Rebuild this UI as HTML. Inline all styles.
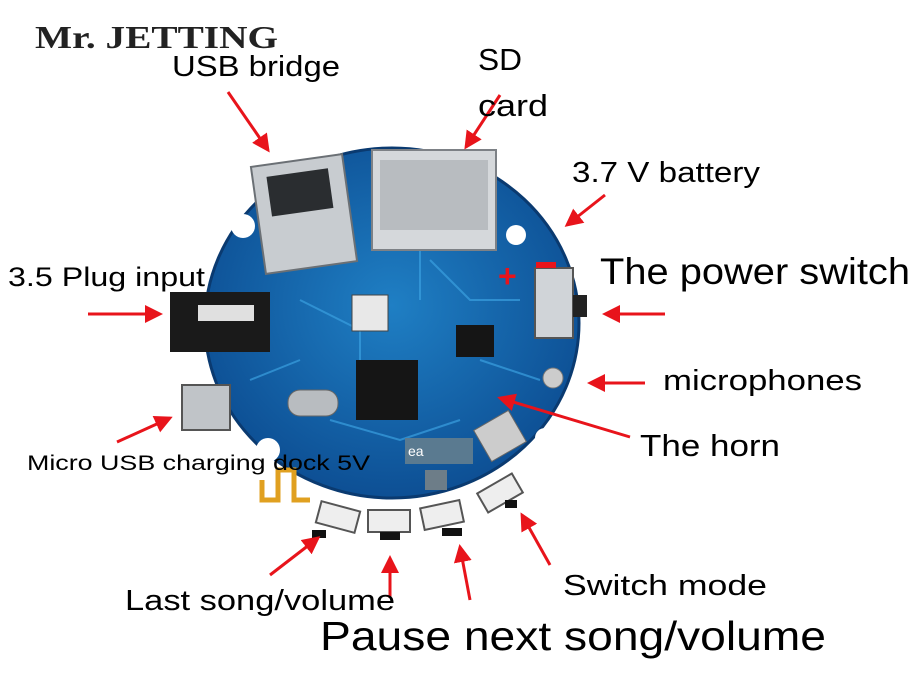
<!DOCTYPE html>
<html><head><meta charset="utf-8"><style>
body{margin:0;background:#fff;}
svg{display:block;}
text{font-family:"Liberation Sans",sans-serif;fill:#000;}
</style></head><body>
<svg width="912" height="686" viewBox="0 0 912 686" xmlns="http://www.w3.org/2000/svg">
<defs>
<marker id="ah" markerWidth="6" markerHeight="6" refX="5" refY="3" orient="auto" markerUnits="strokeWidth">
<path d="M0,0 L6,3 L0,6 z" fill="#e8141b"/></marker>
<radialGradient id="pcb" cx="50%" cy="45%" r="55%">
<stop offset="0" stop-color="#1f7fc4"/><stop offset="1" stop-color="#0d4f94"/></radialGradient>
</defs>
<ellipse cx="392" cy="323" rx="187" ry="175" fill="url(#pcb)"/>
<ellipse cx="392" cy="323" rx="187" ry="175" fill="none" stroke="#0a3a70" stroke-width="3"/>
<g stroke="#3aa0e0" stroke-width="2" fill="none" opacity="0.7">
<path d="M300 300 L360 330 L360 380"/><path d="M430 260 L470 300 L520 300"/>
<path d="M330 420 L400 440 L460 420"/><path d="M250 380 L300 360"/>
<path d="M480 360 L540 380"/><path d="M420 230 L420 300"/>
</g>
<circle cx="243" cy="226" r="12" fill="#fff"/>
<circle cx="516" cy="235" r="10" fill="#fff"/>
<circle cx="268" cy="450" r="12" fill="#fff"/>
<circle cx="545" cy="438" r="10" fill="#fff"/>
<rect x="258" y="160" width="92" height="108" fill="#c8ccd0" stroke="#6b7075" stroke-width="2" transform="rotate(-8 304 214)"/>
<rect x="272" y="172" width="62" height="40" fill="#2a2d30" transform="rotate(-8 304 214)"/>
<rect x="372" y="150" width="124" height="100" fill="#d5d8db" stroke="#7d8186" stroke-width="2"/>
<rect x="380" y="160" width="108" height="70" fill="#b8bcc0"/>
<rect x="170" y="292" width="100" height="60" fill="#1a1a1a"/>
<rect x="198" y="305" width="56" height="16" fill="#e0e0e0"/>
<rect x="182" y="385" width="48" height="45" fill="#c0c4c8" stroke="#555" stroke-width="2"/>
<rect x="288" y="390" width="50" height="26" rx="12" fill="#b8bcc0" stroke="#666"/>
<rect x="356" y="360" width="62" height="60" fill="#151515"/>
<rect x="456" y="325" width="38" height="32" fill="#151515"/>
<rect x="352" y="295" width="36" height="36" fill="#e8e8e8" stroke="#444"/>
<rect x="535" y="268" width="38" height="70" fill="#d0d4d8" stroke="#555" stroke-width="2"/>
<rect x="573" y="295" width="14" height="22" fill="#222"/>
<circle cx="553" cy="378" r="10" fill="#ccc" stroke="#777"/>
<rect x="480" y="418" width="40" height="36" fill="#ccc" stroke="#666" transform="rotate(-30 500 436)"/>
<rect x="405" y="438" width="68" height="26" fill="#5a7a90"/>
<text x="408" y="456" font-size="14" style="fill:#fff">ea</text>
<rect x="425" y="470" width="22" height="20" fill="#6d7d88"/>
<path d="M262 480 L262 500 L278 500 L278 470 L294 470 L294 500 L310 500" stroke="#e0a020" stroke-width="5" fill="none"/>
<g fill="#eee" stroke="#555" stroke-width="2">
<rect x="318" y="506" width="40" height="22" transform="rotate(15 338 517)"/>
<rect x="368" y="510" width="42" height="22"/>
<rect x="422" y="504" width="40" height="22" transform="rotate(-12 442 515)"/>
<rect x="480" y="482" width="40" height="22" transform="rotate(-30 500 493)"/>
</g>
<g fill="#111">
<rect x="380" y="532" width="20" height="8"/><rect x="442" y="528" width="20" height="8"/>
<rect x="312" y="530" width="14" height="8"/><rect x="505" y="500" width="12" height="8"/>
</g>
<text x="498" y="287" font-size="32" font-weight="bold" style="fill:#e8141b">+</text>
<rect x="536" y="262" width="20" height="6" fill="#e8141b"/>

<g stroke="#e8141b" stroke-width="3" fill="none" marker-end="url(#ah)">
<line x1="228" y1="92" x2="268" y2="150"/>
<line x1="500" y1="95" x2="466" y2="147"/>
<line x1="605" y1="195" x2="567" y2="225"/>
<line x1="88" y1="314" x2="160" y2="314"/>
<line x1="665" y1="314" x2="605" y2="314"/>
<line x1="645" y1="383" x2="590" y2="383"/>
<line x1="630" y1="437" x2="500" y2="398"/>
<line x1="117" y1="442" x2="170" y2="418"/>
<line x1="270" y1="575" x2="318" y2="538"/>
<line x1="390" y1="598" x2="390" y2="558"/>
<line x1="470" y1="600" x2="460" y2="547"/>
<line x1="550" y1="565" x2="522" y2="515"/>
</g>

<text x="35" y="48" font-size="32" font-weight="bold" textLength="243" lengthAdjust="spacingAndGlyphs" style="font-family:'Liberation Serif',serif;fill:#222">Mr. JETTING</text>
<text x="172" y="76" font-size="29" textLength="168" lengthAdjust="spacingAndGlyphs">USB bridge</text>
<text x="478" y="70" font-size="31" textLength="44" lengthAdjust="spacingAndGlyphs">SD</text>
<text x="478" y="116" font-size="31" textLength="70" lengthAdjust="spacingAndGlyphs">card</text>
<text x="572" y="182" font-size="29" textLength="188" lengthAdjust="spacingAndGlyphs">3.7 V battery</text>
<text x="600" y="284" font-size="37" textLength="310" lengthAdjust="spacingAndGlyphs">The power switch</text>
<text x="8" y="286" font-size="27" textLength="197" lengthAdjust="spacingAndGlyphs">3.5 Plug input</text>
<text x="663" y="390" font-size="29" textLength="199" lengthAdjust="spacingAndGlyphs">microphones</text>
<text x="640" y="456" font-size="31" textLength="140" lengthAdjust="spacingAndGlyphs">The horn</text>
<text x="27" y="470" font-size="21" textLength="343" lengthAdjust="spacingAndGlyphs">Micro USB charging dock 5V</text>
<text x="125" y="610" font-size="29" textLength="270" lengthAdjust="spacingAndGlyphs">Last song/volume</text>
<text x="563" y="595" font-size="29" textLength="204" lengthAdjust="spacingAndGlyphs">Switch mode</text>
<text x="320" y="650" font-size="41" textLength="506" lengthAdjust="spacingAndGlyphs">Pause next song/volume</text>
</svg>
</body></html>
